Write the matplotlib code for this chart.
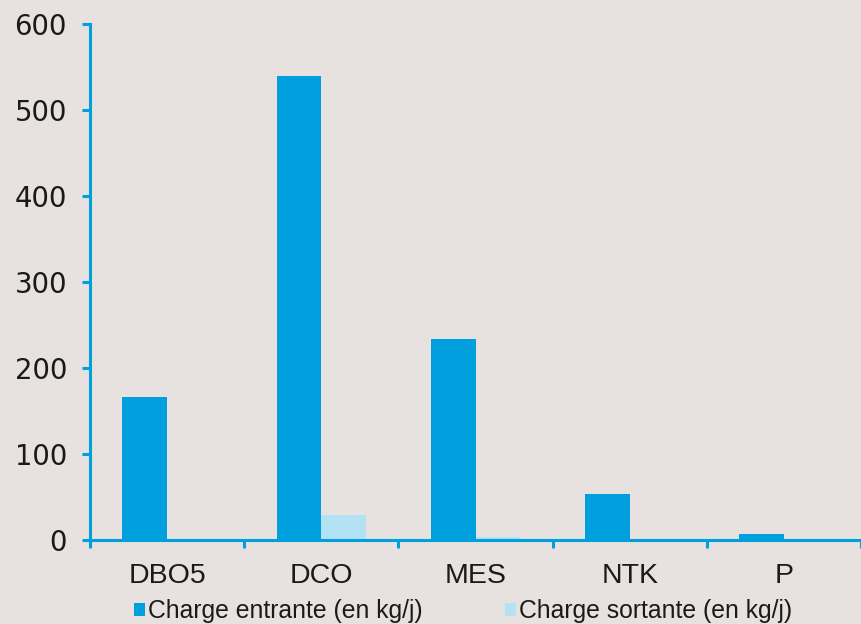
import matplotlib
matplotlib.use("Agg")
import matplotlib.pyplot as plt
import numpy as np

categories = ["DBO5", "DCO", "MES", "NTK", "P"]
entrante = [166, 539, 234, 53.5, 7]
sortante = [1.5, 29, 4, 1.5, 0.4]
series_labels = ["Charge entrante (en kg/j)", "Charge sortante (en kg/j)"]
yticks = [0, 100, 200, 300, 400, 500, 600]

BG = "#E7E2DF"
BLUE = "#00A0DF"
LIGHT = "#B3E2F5"

W, H = 861, 624
fig = plt.figure(figsize=(W / 100, H / 100), dpi=100, facecolor=BG)
ax = fig.add_axes([90 / W, 84 / H, (W - 90) / W, 516 / H])
ax.set_facecolor(BG)

x = np.arange(len(categories))
bw = 0.29
b1 = ax.bar(x - bw / 2, entrante, bw, color=BLUE, label=series_labels[0], zorder=1)
b2 = ax.bar(x + bw / 2, sortante, bw, color=LIGHT, label=series_labels[1], zorder=1)

ax.set_xlim(-0.5, -0.5 + 771 / 154.5)
ax.set_ylim(0, 600)

for s in ["top", "right"]:
    ax.spines[s].set_visible(False)
for s in ["left", "bottom"]:
    ax.spines[s].set_color(BLUE)
    ax.spines[s].set_linewidth(2.2)
    ax.spines[s].set_zorder(3)

ax.set_yticks(yticks)
ax.set_yticklabels([str(v) for v in yticks], fontsize=19.8, family="DejaVu Sans", color="#1a1a1a")
ax.tick_params(axis="y", direction="out", length=5.5, width=2.2, color=BLUE, pad=11)

ax.set_xticks(x)
ax.set_xticklabels(categories, fontsize=20.5, family="Liberation Sans", color="#1a1a1a")
ax.set_xticks(np.arange(len(categories) + 1) - 0.5, minor=True)
ax.tick_params(axis="x", which="major", length=0, pad=16.5)
ax.tick_params(axis="x", which="minor", direction="out", length=5.5, width=2.2, color=BLUE)

leg = fig.legend(handles=[b1, b2], labels=series_labels, loc="center left",
                 bbox_to_anchor=(134 / W, 1 - 611 / H), ncol=2, frameon=False,
                 prop={"family": "Liberation Sans", "size": 17.8},
                 handlelength=0.45, handleheight=0.45, handletextpad=0.1,
                 columnspacing=3.35, borderpad=0, borderaxespad=0)
for t in leg.get_texts():
    t.set_color("#1a1a1a")

fig.savefig("out.png", dpi=100, facecolor=BG)
